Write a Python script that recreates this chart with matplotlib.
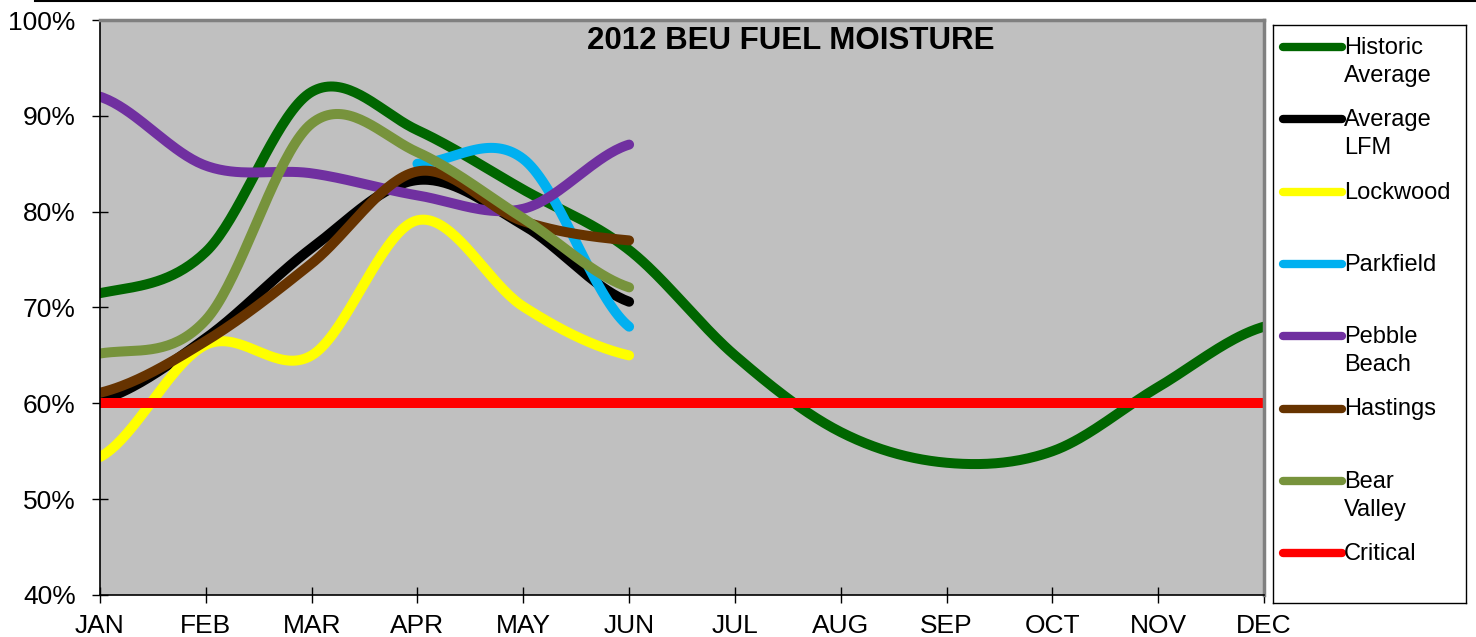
import numpy as np
import matplotlib
matplotlib.use("Agg")
import matplotlib.pyplot as plt
from matplotlib.lines import Line2D

plt.rcParams["font.family"] = ["Liberation Sans", "DejaVu Sans"]

# Data (percent fuel moisture)
months = ["JAN", "FEB", "MAR", "APR", "MAY", "JUN", "JUL", "AUG", "SEP", "OCT", "NOV", "DEC"]
historic_avg = [71.5, 75.8, 92.5, 88.5, 82.3, 76.0, 65.0, 57.0, 53.8, 55.0, 61.7, 68.0]
average_lfm = [60.3, 66.8, 76.2, 83.3, 78.6, 70.6]
lockwood = [54.4, 66.1, 65.0, 79.1, 70.1, 65.0]
parkfield = [None, None, None, 85.0, 85.5, 68.0]
pebble_beach = [92.0, 84.8, 84.0, 81.7, 80.3, 87.0]
hastings = [61.1, 66.5, 74.6, 84.2, 79.0, 77.0]
bear_valley = [65.2, 68.7, 89.2, 86.2, 79.3, 72.1]
critical = [60] * 12

series = [
    ("Historic\nAverage", historic_avg, "#006600"),
    ("Average\nLFM", average_lfm, "#000000"),
    ("Lockwood", lockwood, "#FFFF00"),
    ("Parkfield", parkfield, "#00B0F0"),
    ("Pebble\nBeach", pebble_beach, "#7030A0"),
    ("Hastings", hastings, "#663300"),
    ("Bear\nValley", bear_valley, "#77933C"),
    ("Critical", critical, "#FF0000"),
]


def smooth(vals, n=40):
    # Catmull-Rom style smoothing like Excel's "smoothed line"
    x0 = next(i for i, v in enumerate(vals) if v is not None)
    y = np.array(vals[x0:], dtype=float)
    m = np.empty_like(y)
    m[1:-1] = (y[2:] - y[:-2]) / 2
    m[0] = (y[1] - y[0]) / 2
    m[-1] = (y[-1] - y[-2]) / 2
    t = np.linspace(0, 1, n)
    h00 = 2 * t**3 - 3 * t**2 + 1
    h10 = t**3 - 2 * t**2 + t
    h01 = -2 * t**3 + 3 * t**2
    h11 = t**3 - t**2
    xs, ys = [], []
    for i in range(len(y) - 1):
        xs.append(x0 + i + t)
        ys.append(h00 * y[i] + h10 * m[i] + h01 * y[i + 1] + h11 * m[i + 1])
    return np.concatenate(xs), np.concatenate(ys)


fig = plt.figure(figsize=(14.76, 6.37), dpi=100)
W, H = 1476, 637
ax = fig.add_axes([100 / W, 1 - 595 / H, 1164 / W, 575 / H])
ax.set_facecolor("#C0C0C0")

for label, vals, color in series:
    xs, ys = smooth(vals)
    ax.plot(xs, ys, color=color, lw=7.2, solid_capstyle="round", label=label)

ax.set_xlim(0, 11)
ax.set_ylim(40, 100)
ax.set_xticks(range(12))
ax.set_xticklabels(months)
ax.set_yticks(range(40, 101, 10))
ax.set_yticklabels([f"{v}%" for v in range(40, 101, 10)])
ax.tick_params(direction="inout", length=11, width=1, labelsize=19)
ax.tick_params(axis="y", pad=12)
ax.tick_params(axis="x", pad=8)

for s in ["left", "bottom"]:
    ax.spines[s].set_color("#000000")
    ax.spines[s].set_linewidth(1.2)
for s in ["top", "right"]:
    ax.spines[s].set_color("#808080")
    ax.spines[s].set_linewidth(2.5)

ax.text(0.5935, 0.963, "2012 BEU FUEL MOISTURE", transform=ax.transAxes,
        ha="center", va="center", fontsize=22.5, fontweight="bold")

# Legend box on the right
lax = fig.add_axes([1273 / W, 1 - 603 / H, 193 / W, 578 / H])
lax.set_xlim(0, 193)
lax.set_ylim(578, 0)
lax.set_xticks([])
lax.set_yticks([])
for s in lax.spines.values():
    s.set_color("#000000")
    s.set_linewidth(1)
for i, (label, vals, color) in enumerate(series):
    yc = 22 + i * 72.3
    lax.plot([10, 69], [yc, yc], color=color, lw=6, solid_capstyle="round")
    for j, line in enumerate(label.split("\n")):
        lax.text(71, yc + 1 + j * 28, line, fontsize=17, va="center", ha="left")

# thin rule along the very top of the image
fig.add_artist(Line2D([35 / W, 1], [1 - 1 / H, 1 - 1 / H], color="black", lw=1.5))

fig.savefig("out.png", dpi=100)
